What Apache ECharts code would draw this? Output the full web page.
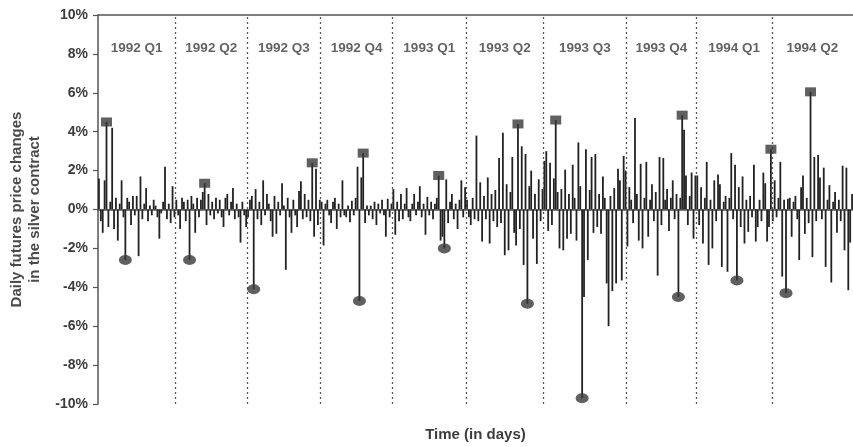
<!DOCTYPE html>
<html>
<head>
<meta charset="utf-8">
<script src="https://cdn.jsdelivr.net/npm/echarts@6/dist/echarts.min.js"></script>
<style>
  html, body { margin: 0; padding: 0; background: #fff; }
  #chart { width: 853px; height: 447px; }
</style>
</head>
<body>
<div id="chart"></div>
<script>
// quarter names shown at the top of each band
const quarterLabels = ["1992 Q1", "1992 Q2", "1992 Q3", "1992 Q4", "1993 Q1",
  "1993 Q2", "1993 Q3", "1993 Q4", "1994 Q1", "1994 Q2"];

// daily price changes (%), one array per quarter
const days92Q1 = [1.6, -0.6, -1.2, 1.5, 4.5, -0.9, 0.4, 4.2, -1.0, 0.6, -1.6, 0.3, 1.5, -0.4, -2.6, 0.6, 0.4, -0.8, 0.7, -0.3,
  0.7, -2.4, 1.7, -0.5, 0.3, 1.1, -0.6, 0.2, -0.3, 0.5, 0.2, -0.4, -1.5, -0.2, 0.4, 2.2, -0.5, 0.3, -0.7, 1.2, -0.4];
const days92Q2 = [0.5, -0.3, -1.0, 0.6, 0.4, -0.6, 0.5, -2.6, 0.7, 0.3, -1.2, 0.6, -0.4, 0.5, 0.9, 1.35, -0.8, 0.8, -0.3,
  0.4, -0.5, 0.6, -0.2, 0.5, -0.4, -0.9, 0.6, 0.8, -0.3, 0.4, 1.1, -0.5, 0.3, -0.4, -1.7, 0.4, -0.3, -0.9];
const days92Q3 = [-0.4, 0.5, 0.7, -4.1, 1.05, -0.5, 0.4, -0.8, 1.5, -0.3, 0.8, 0.3, -0.6, -1.4, 0.7, -1.25, 0.4, -0.3, 1.35,
  0.2, -3.1, 0.6, -0.4, -1.2, 0.5, -0.3, -0.9, 0.95, 1.45, -0.5, 0.8, -0.4, 0.5, -0.6, 2.4, -1.4, 2.1, -0.8, 0.5];
const days92Q4 = [0.4, -1.85, 0.3, 0.5, -0.3, -0.7, 0.4, 0.6, -1.0, 0.3, -0.4, 1.5, -0.3, -0.4, 0.2, -0.65, 0.45, -0.3, 0.6,
  2.2, -4.7, 1.65, 2.9, -0.7, 0.2, -0.3, 0.2, -0.5, 0.4, -0.8, 0.3, -0.2, 0.5, -0.3, -1.4, 0.55, -0.4, 0.3];
const days93Q1 = [1.05, -1.3, 0.4, -0.6, 0.8, -0.5, 0.3, 1.1, -0.4, -0.6, 0.3, 0.8, -0.3, 0.4, 1.2, -0.4, 0.3, -1.3, 0.65,
  -0.3, 0.4, -0.5, 0.3, 0.6, 1.75, -1.6, -1.4, -2.0, 1.55, -0.7, 0.4, 0.8, -0.5, 0.3, -1.0, 0.5, 1.5, -0.4, 1.15];
const days93Q2 = [0.5, -0.4, -0.8, 0.6, -0.5, 3.8, -0.6, 1.4, -1.65, 0.7, -0.5, 1.65, -1.75, 0.8, -0.6, 1.0, -0.9, 2.65,
  -0.7, 3.95, -2.35, 1.3, -2.1, 0.9, 2.7, -1.2, -1.85, 4.4, -1.0, 3.25, -2.85, 2.85, -4.85, 1.2, 2.0, -1.5, 0.8, -2.8,
  1.55, -0.6, 1.05];
const days93Q3 = [2.5, 3.0, -1.1, 2.4, -0.8, 1.6, 4.6, 0.9, -2.0, 1.05, -2.1, 2.05, -1.5, 0.8, -1.25, 2.3, 0.6, -1.6, 3.45,
  1.2, -9.7, -4.5, 3.1, -2.6, 1.0, 2.7, -1.2, 2.85, -0.9, 0.8, -1.25, 1.7, 0.6, -3.8, -6.0, 0.7, -4.2, 1.1, -3.8, 2.1,
  1.5, -3.65, 2.75, 2.0];
const days93Q4 = [-1.9, 1.15, 0.5, -0.7, 4.7, 0.8, -1.6, 2.35, -2.0, 0.6, 2.45, -1.4, 0.5, 1.3, -0.6, 0.9, -3.4, 2.7,
  -0.8, 2.65, 0.5, 1.05, -1.1, 0.6, 1.5, -0.5, 0.8, -4.5, 0.6, 4.85, 4.1, 1.75, -0.8, 0.7, 1.9, -1.5, 1.75];
const days94Q1 = [1.75, -0.8, 1.15, -1.75, 0.6, 2.45, -2.85, 0.5, -2.0, 1.5, -0.6, 1.8, 1.3, -2.95, 0.4, 0.7, -3.2, 0.6,
  2.9, -0.5, 2.3, -3.65, 1.15, -0.9, 1.7, -1.75, 0.5, -1.15, 0.7, -0.4, 2.3, -1.65, -0.9, 0.5, -0.6, 1.9, 1.35, -1.65,
  -0.9, 3.1];
const days94Q2 = [-0.6, 1.5, -0.4, 0.6, 2.45, -3.45, 0.5, -4.3, 0.55, 0.6, -1.4, 0.4, 0.7, -0.5, -2.6, 1.15, 1.75, -1.25,
  0.6, -0.7, 6.05, -2.45, 2.7, -0.6, 2.8, 1.65, -0.5, 2.15, -2.95, 0.5, 1.25, -3.75, 0.4, 0.9, -1.2, 0.5, -0.6, 2.25,
  -2.1, 2.15, -4.15, -1.7, 0.8];

const quarters = [days92Q1, days92Q2, days92Q3, days92Q4, days93Q1,
  days93Q2, days93Q3, days93Q4, days94Q1, days94Q2];

const yTicks = { min: -10, max: 10, step: 2 };

const bars = [];
const highs = [];
const lows = [];
const labelPoints = [];
const dividers = [];
let start = 0;
quarters.forEach((q, k) => {
  let hi = 0, lo = 0;
  q.forEach((v, i) => {
    bars.push([start + i + 0.5, v]);
    if (v > q[hi]) hi = i;
    if (v < q[lo]) lo = i;
  });
  highs.push([start + hi + 0.5, q[hi]]);
  lows.push([start + lo + 0.5, q[lo]]);
  labelPoints.push({ value: [start + q.length / 2, 8.3], name: quarterLabels[k] });
  if (k > 0) dividers.push({ xAxis: start });
  start += q.length;
});
const totalDays = start;

const chart = echarts.init(document.getElementById("chart"));
const textFont = { fontFamily: "Liberation Sans", fontWeight: "bold", color: "#3c3c3c" };

chart.setOption({
  animation: false,
  grid: { left: 97, right: 0, top: 15, bottom: 42 },
  xAxis: [
    {
      type: "value",
      min: 0,
      max: totalDays,
      name: "Time (in days)",
      nameLocation: "middle",
      nameGap: 23,
      nameTextStyle: { ...textFont, fontSize: 15 },
      axisLine: { show: true, lineStyle: { color: "#555", width: 1.5 } },
      axisTick: { show: false },
      axisLabel: { show: false },
      splitLine: { show: false },
    },
    {
      type: "value",
      position: "top",
      min: 0,
      max: totalDays,
      axisLine: { show: true, lineStyle: { color: "#555", width: 1.5 } },
      axisTick: { show: false },
      axisLabel: { show: false },
      splitLine: { show: false },
    },
  ],
  yAxis: {
    type: "value",
    min: yTicks.min,
    max: yTicks.max,
    interval: yTicks.step,
    name: "Daily futures price changes\nin the silver contract",
    nameLocation: "middle",
    nameGap: 54,
    nameTextStyle: { ...textFont, fontSize: 15, lineHeight: 18, color: "#4a4a4a" },
    axisLine: { show: true, lineStyle: { color: "#555", width: 1.5 } },
    axisTick: { show: true, length: 5, lineStyle: { color: "#555", width: 1.2 } },
    axisLabel: { ...textFont, fontSize: 14, margin: 10, formatter: "{value}%" },
    splitLine: { show: false },
  },
  series: [
    {
      type: "bar",
      data: bars,
      barWidth: 1.8,
      itemStyle: { color: "#222" },
      markLine: {
        silent: true,
        symbol: ["none", "none"],
        label: { show: false },
        lineStyle: { color: "#555", type: [2, 3], width: 1.3 },
        data: dividers,
      },
    },
    {
      type: "scatter",
      data: highs,
      symbol: "rect",
      symbolSize: [11, 9],
      itemStyle: { color: "#383838" },
      z: 5,
    },
    {
      type: "scatter",
      data: lows,
      symbol: "circle",
      symbolSize: [13, 10],
      itemStyle: { color: "#383838" },
      z: 5,
    },
    {
      type: "scatter",
      data: labelPoints,
      symbolSize: 0,
      silent: true,
      label: {
        show: true,
        position: "inside",
        formatter: "{b}",
        ...textFont,
        fontSize: 13.5,
      },
    },
  ],
});
</script>
</body>
</html>
